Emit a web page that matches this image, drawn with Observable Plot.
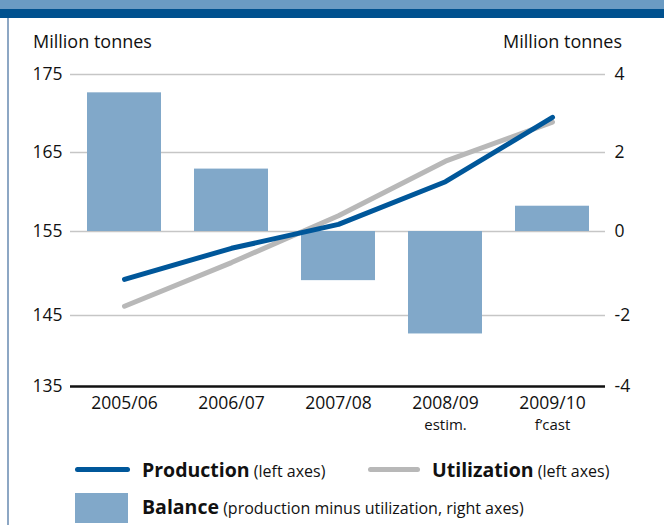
<!DOCTYPE html>
<html><head><meta charset="utf-8">
<script src="https://cdn.jsdelivr.net/npm/d3@7"></script>
<script src="https://cdn.jsdelivr.net/npm/@observablehq/plot@0.6"></script>
<style>
body{margin:0;background:#fff;font-family:"Open Sans",sans-serif;color:#111;}
#wrap{position:relative;width:664px;height:525px;overflow:hidden;background:#fff;}
.band1{position:absolute;left:0;top:0;width:664px;height:9px;background:#6b9bc3}
.band2{position:absolute;left:0;top:9px;width:664px;height:9px;background:#00518f}
.lborder{position:absolute;left:7px;top:18px;width:2px;height:507px;background:#8da7c4}
.unit{position:absolute;top:29px;font-size:18px;line-height:24px;white-space:nowrap}
#chart{position:absolute;left:0;top:60px}
.lg{position:absolute;white-space:nowrap;line-height:26px;}
.lg b{font-size:19.5px;font-weight:700}
.lg span{font-size:16px}
.sw{position:absolute;}
</style></head>
<body>
<div id="wrap">
  <div class="band1"></div><div class="band2"></div><div class="lborder"></div>
  <div class="unit" id="unitL" style="left:33px"></div>
  <div class="unit" id="unitR" style="right:42px"></div>
  <div id="chart"></div>
  <div class="sw" style="left:75px;top:467px;width:55px;height:5px;border-radius:3px;background:#00579a"></div>
  <div class="lg" style="left:142px;top:457px"><b id="l1"></b> <span id="l1s"></span></div>
  <div class="sw" style="left:368px;top:467px;width:52px;height:5px;border-radius:3px;background:#b8b8b8"></div>
  <div class="lg" style="left:432px;top:457px"><b id="l2"></b> <span id="l2s"></span></div>
  <div class="sw" style="left:75px;top:493px;width:53px;height:30px;background:#81a8c9"></div>
  <div class="lg" style="left:142px;top:494px"><b id="l3"></b> <span id="l3s"></span></div>
</div>
<script>
// ---- data ----
const categories = ["2005/06", "2006/07", "2007/08", "2008/09", "2009/10"];
const subLabels = ["", "", "", "estim.", "f\u2019cast"];
const production = [149.3, 153.0, 155.9, 161.3, 169.5];
const utilization = [146.1, 151.3, 157.0, 163.9, 168.9];
const balance = [3.53, 1.58, -1.17, -2.52, 0.64];
const leftTicks = [135, 145, 155, 165, 175];
const rightTickLabels = ["-4", "-2", "0", "2", "4"];
const unitLabel = "Million tonnes";
const legendNames = ["Production", "Utilization", "Balance"];
const legendNotes = ["(left axes)", "(left axes)", "(production minus utilization, right axes)"];

document.getElementById("unitL").textContent = unitLabel;
document.getElementById("unitR").textContent = unitLabel;
["l1","l2","l3"].forEach((id,i)=>{
  document.getElementById(id).textContent = legendNames[i];
  document.getElementById(id+"s").textContent = legendNotes[i];
});

const rows = categories.map((c, i) => ({cat: c, sub: subLabels[i], prod: production[i], util: utilization[i], bal: balance[i]}));
// right axis: 0 aligns with 155, 2 units per 10 left units
const toLeft = v => 155 + v * 5;

const chart = Plot.plot({
  width: 664,
  height: 380,
  marginTop: 14,
  marginBottom: 54,
  marginLeft: 70,
  marginRight: 59,
  style: {fontFamily: "Open Sans, sans-serif", fontSize: "17.5px", color: "#111", background: "transparent"},
  x: {type: "band", domain: categories, paddingInner: 0.31, paddingOuter: 0.155, label: null},
  y: {type: "linear", domain: leftTicks, range: [326, 255, 171, 92, 14], label: null},
  marks: [
    Plot.ruleY(leftTicks.slice(1), {stroke: "#c6c6c6", strokeWidth: 1.5}),
    Plot.barY(rows, {x: "cat", y1: 155, y2: d => toLeft(d.bal), fill: "#81a8c9"}),
    Plot.line(rows, {x: "cat", y: "util", stroke: "#b8b8b8", strokeWidth: 5, strokeLinecap: "round", strokeLinejoin: "round"}),
    Plot.line(rows, {x: "cat", y: "prod", stroke: "#00579a", strokeWidth: 5, strokeLinecap: "round", strokeLinejoin: "round"}),
    Plot.ruleY([135], {stroke: "#111", strokeWidth: 2.5}),
    Plot.axisY({anchor: "left", ticks: leftTicks, tickSize: 0, tickPadding: 8, label: null, fontSize: 17.5}),
    Plot.axisY({anchor: "right", ticks: leftTicks, tickSize: 0, tickPadding: 9, label: null, fontSize: 17.5,
      tickFormat: d => rightTickLabels[leftTicks.indexOf(d)]}),
    Plot.axisX({tickSize: 0, tickPadding: 10, label: null, fontSize: 17.5}),
    Plot.text(rows, {x: "cat", text: "sub", frameAnchor: "bottom", dy: 39, fontSize: 15, lineAnchor: "middle", fill: "#111"})
  ]
});
document.getElementById("chart").appendChild(chart);
</script>
</body></html>
